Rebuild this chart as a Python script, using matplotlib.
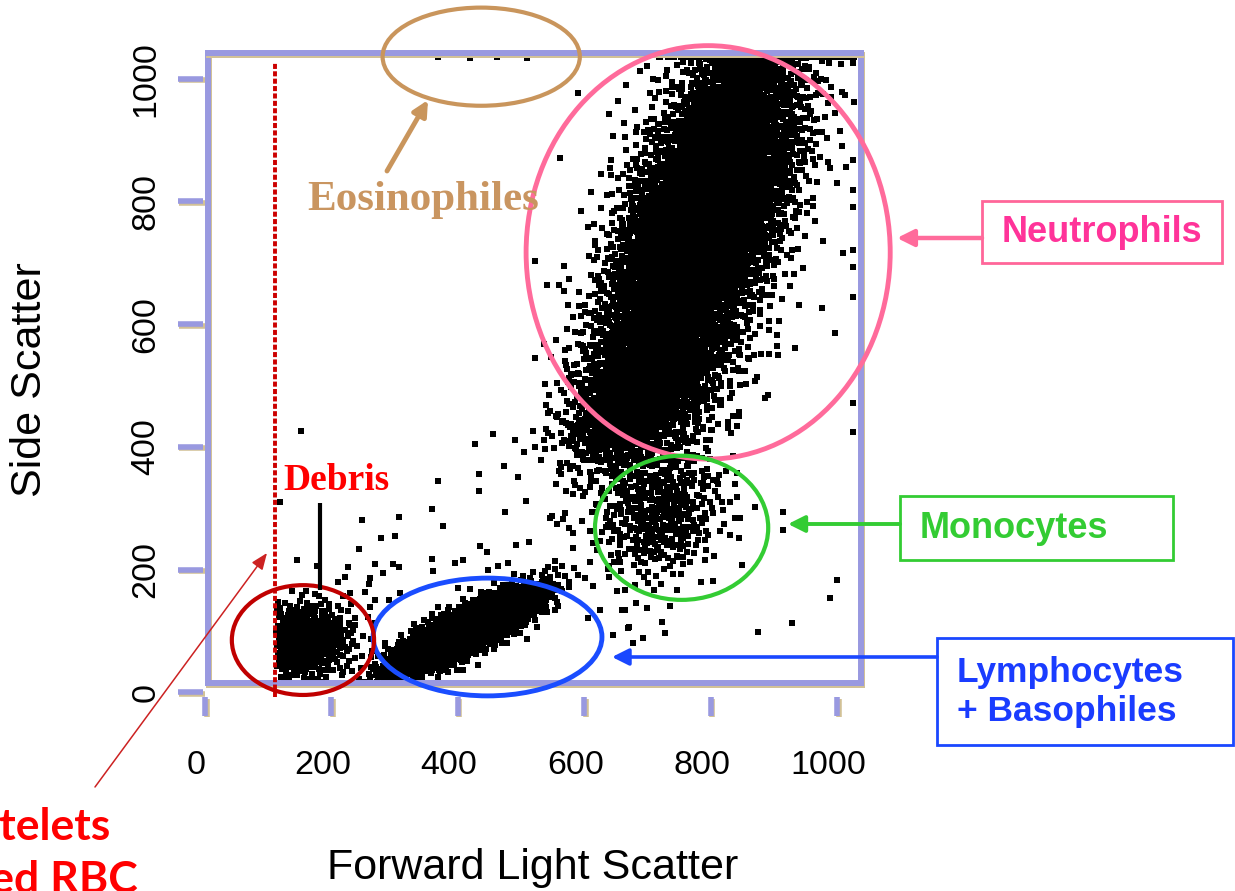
import numpy as np
import matplotlib.pyplot as plt
import matplotlib.patheffects as pe
from matplotlib.patches import Ellipse, Rectangle, FancyArrowPatch

plt.rcParams['font.family'] = ['Liberation Sans', 'DejaVu Sans']

W, H = 1235, 891

# cell populations (forward scatter / side scatter): centre, spread along and
# across the main direction, tilt in degrees, number of events
pop_names = ['debris', 'lymphocytes', 'monocytes', 'neutro_tail', 'neutro_low', 'neutrophils']
pop_cx = [152, 412, 722, 640, 700, 785]
pop_cy = [82, 100, 292, 440, 500, 760]
pop_sd_major = [44, 64, 60, 45, 70, 175]
pop_sd_minor = [34, 17, 48, 38, 55, 58]
pop_angle = [10, 28, 65, 60, 65, 71]
pop_count = [480, 2300, 380, 240, 800, 6400]

# isolated events outside the main populations
stray_x = [152, 119, 248, 307, 359, 369, 427, 456, 491, 434, 434, 473, 495, 508, 475,
           377, 301, 278, 244, 146, 177, 226, 269, 297, 307, 282, 261, 210, 359, 361,
           396, 408, 435, 446, 479, 492, 513, 543, 448, 259, 253, 229, 269, 309, 291,
           549, 566, 582, 582, 571, 543, 522, 538,
           915, 915, 1000, 989, 929, 875, 1025, 1025, 891, 873, 907, 828, 847, 842, 845,
           839, 699, 728, 671, 693, 646, 669, 677, 660, 625,
           1025, 1025, 1025, 1025, 1025, 1025, 1025, 1009, 976, 940, 934,
           562, 568, 541, 590, 653, 666, 709, 646, 642,
           369, 419, 462, 509]
stray_y = [426, 310, 281, 285, 299, 344, 405, 421, 411, 356, 328, 369, 351, 312, 294,
           271, 254, 251, 233, 215, 206, 204, 209, 209, 204, 194, 186, 179, 217, 197,
           210, 215, 238, 228, 210, 240, 245, 204, 199, 176, 163, 161, 150, 161, 150,
           287, 282, 259, 235, 328, 455, 400, 396,
           294, 264, 183, 153, 113, 98, 424, 471, 485, 514, 550, 440, 550, 318, 251,
           284, 137, 96, 106, 88, 93, 104, 80, 134, 134,
           1026, 868, 819, 791, 721, 693, 644, 716, 626, 631, 561,
           871, 695, 664, 977, 964, 990, 1000, 907, 843,
           1036, 1034, 1036, 1034]

xticks = [0, 200, 400, 600, 800, 1000]
yticks = [0, 200, 400, 600, 800, 1000]
threshold = 111  # platelet / lysed RBC cut on forward scatter

FRAME = '#9999e0'
SHADOW = '#d2c196'


def radical_inverse(k, base):
    out = np.zeros(len(k))
    f = 1.0 / base
    k = k.copy()
    while k.any():
        out += f * (k % base)
        k //= base
        f /= base
    return out


def cloud(cx, cy, sd_major, sd_minor, angle, n, start):
    # Halton (2, 3) points through Box-Muller, then stretched and tilted
    k = np.arange(start, start + n)
    u = radical_inverse(k, 2)
    v = radical_inverse(k, 3)
    r = np.sqrt(-2.0 * np.log(1.0 - u))
    a = r * np.cos(2 * np.pi * v) * sd_major
    b = r * np.sin(2 * np.pi * v) * sd_minor
    t = np.deg2rad(angle)
    return cx + a * np.cos(t) - b * np.sin(t), cy + a * np.sin(t) + b * np.cos(t)


xs, ys = [], []
for i in range(len(pop_names)):
    px, py = cloud(pop_cx[i], pop_cy[i], pop_sd_major[i], pop_sd_minor[i],
                   pop_angle[i], pop_count[i], 17 + 9001 * i)
    keep = px >= threshold + 2
    xs.append(px[keep])
    ys.append(py[keep])
xs.append(np.array(stray_x, float))
ys.append(np.array(stray_y, float))
fsc = np.minimum(np.concatenate(xs), 1027)   # detector saturation
ssc = np.minimum(np.concatenate(ys), 1035)

fig = plt.figure(figsize=(W / 100, H / 100), dpi=100)
ax = fig.add_axes([207.5 / W, 1 - 683 / H, (860.5 - 207.5) / W, (683 - 53) / H])
ax.set_xlim(4, 1037)
ax.set_ylim(15, 1042)
ax.set_xticks([])
ax.set_yticks([])
shadow = [pe.SimpleLineShadow(offset=(1.2, -1.2), shadow_color=SHADOW, alpha=1), pe.Normal()]
for s in ax.spines.values():
    s.set_color(FRAME)
    s.set_linewidth(4.3)
    s.set_path_effects(shadow)

ax.scatter(fsc, ssc, s=13, marker='s', c='black', linewidths=0, zorder=2)

# R-style detached ticks
for v in yticks:
    ax.plot([-43, -3], [v, v], color=FRAME, lw=4, solid_capstyle='butt',
            clip_on=False, path_effects=shadow)
    ax.text(-93, v, str(v), rotation=90, ha='center', va='center', fontsize=24.5,
            clip_on=False)
for v in xticks:
    ax.plot([v, v], [-8, -38], color=FRAME, lw=4, solid_capstyle='butt',
            clip_on=False, path_effects=shadow)
    ax.text(v - 14, -119, str(v), ha='center', va='center', fontsize=24.5, clip_on=False)

ax.plot([threshold, threshold], [-8, 1026], color='#cc0000', lw=2.8,
        linestyle=(0, (1.3, 0.6)), clip_on=False, zorder=3)

# gates
gates = [((796, 717), 576, 674, '#ff6b9b', 3.5),
         ((754, 268), 274, 235, '#33cc33', 3.0),
         ((447, 90), 362, 192, '#1a4dff', 3.5),
         ((155, 85), 225, 179, '#c00000', 3.0),
         ((437, 1036), 312, 160, '#c9955c', 3.0)]
for c, w, h, col, lw in gates:
    ax.add_patch(Ellipse(c, w, h, fill=False, edgecolor=col, lw=lw, clip_on=False, zorder=4))

# annotations in pixel coordinates
ov = fig.add_axes([0, 0, 1, 1], zorder=5)
ov.set_xlim(0, W)
ov.set_ylim(H, 0)
ov.axis('off')


def arrow(p0, p1, col, lw, hl, hw):
    ov.add_patch(FancyArrowPatch(p0, p1, arrowstyle=f'-|>,head_length={hl},head_width={hw}',
                                 mutation_scale=10, lw=lw, color=col,
                                 shrinkA=0, shrinkB=0))


ov.text(30, 380, 'Side Scatter', rotation=90, ha='center', va='center', fontsize=31)
ov.text(533, 868, 'Forward Light Scatter', ha='center', va='center', fontsize=31)

ov.add_patch(Rectangle((982, 201), 240, 62, fill=False, edgecolor='#ff6699', lw=2))
ov.text(1102, 233, 'Neutrophils', ha='center', va='center', fontsize=26,
        fontweight='bold', color='#ff3399')
arrow((982, 238), (897, 238), '#ff6b9b', 3.2, 1.0, 0.5)

ov.add_patch(Rectangle((900, 496), 273, 64, fill=False, edgecolor='#33cc33', lw=2))
ov.text(920, 528, 'Monocytes', ha='left', va='center', fontsize=26,
        fontweight='bold', color='#33cc33')
arrow((900, 524), (788, 524), '#33cc33', 2.8, 1.0, 0.5)

ov.add_patch(Rectangle((937, 638), 296, 107, fill=False, edgecolor='#1a47ff', lw=2))
ov.text(957, 692, 'Lymphocytes\n+ Basophiles', ha='left', va='center', fontsize=25.5,
        fontweight='bold', color='#1a3cff', linespacing=1.2)
arrow((937, 657), (612, 657), '#1a47ff', 2.6, 1.0, 0.5)

ov.text(423, 200, 'Eosinophiles', ha='center', va='center', fontsize=31,
        fontweight='bold', color='#c99560', family='Liberation Serif')
arrow((387, 171), (428, 100), '#c9955c', 3.5, 0.9, 0.45)

ov.text(336, 480, 'Debris', ha='center', va='center', fontsize=27,
        fontweight='bold', color='#ff0000', family='Liberation Serif')
ov.plot([320, 320], [503, 590], color='black', lw=3, solid_capstyle='butt')

ov.text(111, 840, 'Platelets', ha='right', va='baseline', fontsize=32,
        fontweight='bold', color='#ff0000', family=['Lato', 'DejaVu Sans'])
ov.text(138, 893, 'Lysed RBC', ha='right', va='baseline', fontsize=32,
        fontweight='bold', color='#ff0000', family=['Lato', 'DejaVu Sans'])
arrow((95, 787), (267, 553), '#cc2222', 1.1, 1.0, 0.4)

fig.savefig('out.png', dpi=100)
